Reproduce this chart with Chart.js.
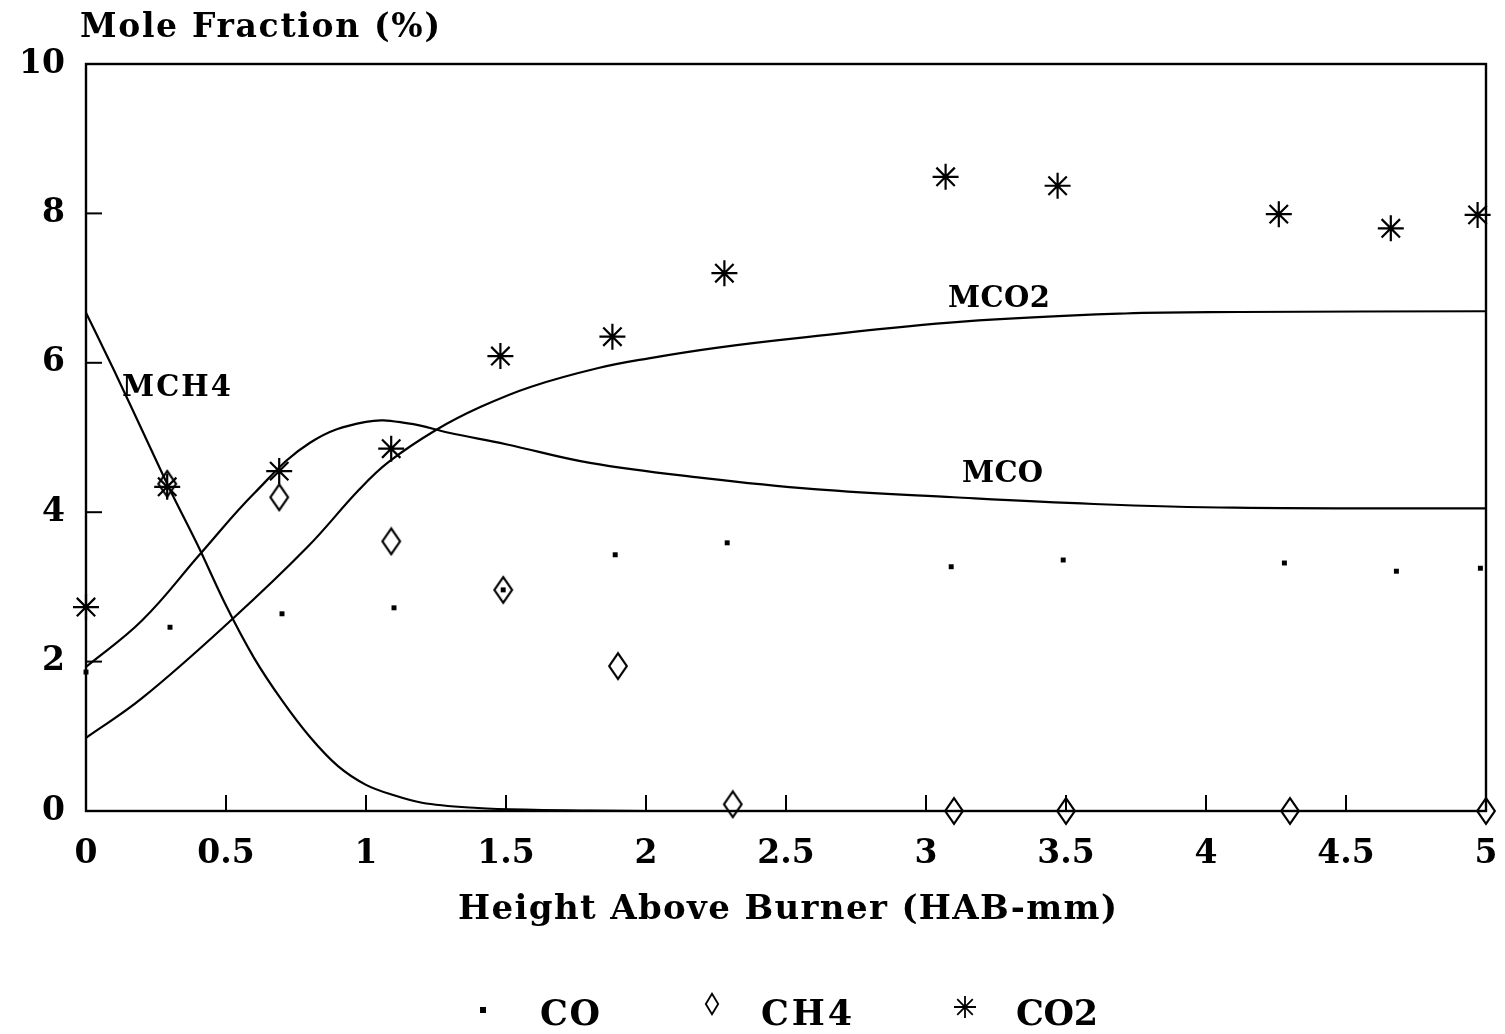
<!DOCTYPE html>
<html>
<head>
<meta charset="utf-8">
<script src="https://cdn.jsdelivr.net/npm/chart.js@4.4.1/dist/chart.umd.min.js"></script>
<style>
  html, body { margin:0; padding:0; background:#fff; }
  canvas { display:block; }
</style>
</head>
<body>
<canvas id="chart" width="1505" height="1034"></canvas>
<script>
// ---------- dados medidos (pontos) ----------
const coX  = [0, 0.30, 0.70, 1.10, 1.49, 1.89, 2.29, 3.09, 3.49, 4.28, 4.68, 4.98];
const coY  = [1.86, 2.46, 2.64, 2.72, 2.96, 3.43, 3.59, 3.27, 3.36, 3.32, 3.21, 3.25];

const ch4X = [-0.02, 0.29, 0.69, 1.09, 1.49, 1.90, 2.31, 3.10, 3.50, 4.30, 5.00];
const ch4Y = [6.22, 4.38, 4.20, 3.61, 2.96, 1.94, 0.09, 0, 0, 0, 0];

const co2X = [0, 0.29, 0.69, 1.09, 1.48, 1.88, 2.28, 3.07, 3.47, 4.26, 4.66, 4.97];
const co2Y = [2.73, 4.34, 4.55, 4.85, 6.09, 6.35, 7.20, 8.49, 8.37, 7.99, 7.80, 7.98];

// ---------- curvas do modelo ----------
const mch4X = [0, 0.1, 0.2, 0.3, 0.4, 0.5, 0.6, 0.7, 0.8, 0.9, 1.0, 1.1, 1.2, 1.4, 1.6, 1.8, 2.0, 5.0];
const mch4Y = [6.67, 5.9, 5.1, 4.3, 3.55, 2.75, 2.05, 1.48, 0.99, 0.6, 0.35, 0.21, 0.11, 0.04, 0.015, 0.005, 0, 0];

const mcoX = [0, 0.2, 0.41, 0.6, 0.8, 1.0, 1.15, 1.3, 1.5, 1.8, 2.2, 2.6, 3.1, 3.6, 4.1, 5.0];
const mcoY = [1.93, 2.55, 3.45, 4.25, 4.93, 5.21, 5.19, 5.06, 4.91, 4.66, 4.46, 4.31, 4.2, 4.11, 4.06, 4.05];

const mco2X = [0, 0.2, 0.52, 0.79, 0.975, 1.08, 1.25, 1.41, 1.59, 1.83, 2.01, 2.25, 2.54, 3.13, 3.71, 4.12, 5.0];
const mco2Y = [0.98, 1.51, 2.56, 3.53, 4.30, 4.67, 5.1, 5.41, 5.68, 5.93, 6.06, 6.2, 6.33, 6.55, 6.66, 6.68, 6.69];

// ---------- eixos / textos ----------
const xTickLabels = ['0','0.5','1','1.5','2','2.5','3','3.5','4','4.5','5'];
const yTickLabels = ['0','2','4','6','8','10'];
const xTitle = 'Height Above Burner (HAB-mm)';
const yTitle = 'Mole Fraction (%)';
const curveNames  = ['MCH4', 'MCO2', 'MCO'];
const legendNames = ['CO', 'CH4', 'CO2'];

const FONT = '"DejaVu Serif", "Liberation Serif", serif';
const zip = (xs, ys) => xs.map((x, i) => ({ x, y: ys[i] }));

// losango alto (marcador CH4)
function diamondCanvas(w, h, lw){
  const c = document.createElement('canvas');
  c.width = w; c.height = h;
  const g = c.getContext('2d');
  g.strokeStyle = '#000'; g.lineWidth = lw; g.lineJoin = 'miter';
  g.beginPath();
  g.moveTo(w/2, lw); g.lineTo(w - lw, h/2); g.lineTo(w/2, h - lw); g.lineTo(lw, h/2); g.closePath();
  g.stroke();
  return c;
}
const diamondBig   = diamondCanvas(22, 30, 2.2);
const diamondSmall = diamondCanvas(16, 24, 1.8);

// texto ajustado à largura (espaçamento entre letras)
function fitText(ctx, txt, left, cy, width, size){
  ctx.save();
  ctx.font = `bold ${size}px ${FONT}`;
  ctx.letterSpacing = '0px';
  const w0 = ctx.measureText(txt).width;
  const n = txt.length - 1;
  ctx.letterSpacing = (n > 0 ? (width - w0) / n : 0) + 'px';
  ctx.fillStyle = '#000';
  ctx.textAlign = 'left';
  ctx.textBaseline = 'middle';
  ctx.fillText(txt, left, cy);
  ctx.restore();
}

const decor = {
  id: 'decor',
  afterDatasetsDraw(chart){
    const { ctx, chartArea: a, scales } = chart;
    ctx.save();
    ctx.strokeStyle = '#000';
    ctx.lineWidth = 2.4;
    ctx.strokeRect(a.left, a.top, a.right - a.left, a.bottom - a.top);

    // marcas internas
    ctx.lineWidth = 2;
    scales.x.ticks.forEach(t => {
      if (t.value <= 0 || t.value >= 5) return;
      const px = scales.x.getPixelForValue(t.value);
      ctx.beginPath(); ctx.moveTo(px, a.bottom); ctx.lineTo(px, a.bottom - 16); ctx.stroke();
    });
    scales.y.ticks.forEach(t => {
      if (t.value <= 0 || t.value >= 10) return;
      const py = scales.y.getPixelForValue(t.value);
      ctx.beginPath(); ctx.moveTo(a.left, py); ctx.lineTo(a.left + 16, py); ctx.stroke();
    });
    ctx.restore();

    // títulos
    fitText(ctx, yTitle, 80, 28, 360, 33);
    fitText(ctx, xTitle, 458, 910, 659, 34);

    // rótulos das curvas
    fitText(ctx, curveNames[0], 122, 388, 109, 29);
    fitText(ctx, curveNames[1], 948, 299, 102, 29);
    fitText(ctx, curveNames[2], 962, 474, 81, 29);

    // legenda
    ctx.save();
    ctx.fillStyle = '#000';
    ctx.fillRect(480, 1007, 6, 6);
    ctx.drawImage(diamondSmall, 712 - 8, 1004 - 12);
    ctx.strokeStyle = '#000'; ctx.lineWidth = 1.8;
    Chart.helpers.drawPoint(ctx, { pointStyle: 'star', radius: 11, rotation: 0, borderWidth: 1.8 }, 965, 1007);
    ctx.restore();
    fitText(ctx, legendNames[0], 540, 1016, 60, 35);
    fitText(ctx, legendNames[1], 761, 1016, 91, 35);
    fitText(ctx, legendNames[2], 1016, 1016, 82, 35);
  }
};

const lineDs = (xs, ys, mode) => ({
  data: zip(xs, ys), showLine: true, pointRadius: 0, borderColor: '#000',
  borderWidth: 2.2, cubicInterpolationMode: mode, tension: 0.4, fill: false
});

new Chart(document.getElementById('chart'), {
  type: 'scatter',
  data: {
    datasets: [
      lineDs(mch4X, mch4Y, 'monotone'),
      lineDs(mcoX, mcoY, 'default'),
      lineDs(mco2X, mco2Y, 'default'),
      { label: 'CO', data: zip(coX, coY), pointStyle: 'rect', pointRadius: 3.5,
        backgroundColor: '#000', borderColor: '#000', borderWidth: 0, clip: false },
      { label: 'CH4', data: zip(ch4X, ch4Y), pointStyle: diamondBig, clip: false },
      { label: 'CO2', data: zip(co2X, co2Y), pointStyle: 'star', pointRadius: 13,
        borderColor: '#000', borderWidth: 2.2, clip: false }
    ]
  },
  options: {
    responsive: false,
    animation: false,
    layout: { padding: { left: 0, top: 64, right: 19, bottom: 0 } },
    plugins: { legend: { display: false }, tooltip: { enabled: false } },
    scales: {
      x: {
        type: 'linear', min: 0, max: 5,
        afterFit: s => { s.height = 1034 - 811; s.paddingLeft = 0; s.paddingRight = 0; },
        grid: { display: false, drawTicks: false },
        border: { display: false },
        ticks: {
          stepSize: 0.5, padding: 24, color: '#000', maxRotation: 0, autoSkip: false,
          font: { family: FONT, size: 33, weight: 'bold' },
          callback: (v, i) => xTickLabels[i]
        }
      },
      y: {
        type: 'linear', min: 0, max: 10,
        afterFit: s => { s.width = 86; s.paddingTop = 0; s.paddingBottom = 0; },
        grid: { display: false, drawTicks: false },
        border: { display: false },
        ticks: {
          stepSize: 2, padding: 21, color: '#000',
          font: { family: FONT, size: 33, weight: 'bold' },
          callback: (v, i) => yTickLabels[i]
        }
      }
    }
  },
  plugins: [decor]
});
</script>
</body>
</html>
